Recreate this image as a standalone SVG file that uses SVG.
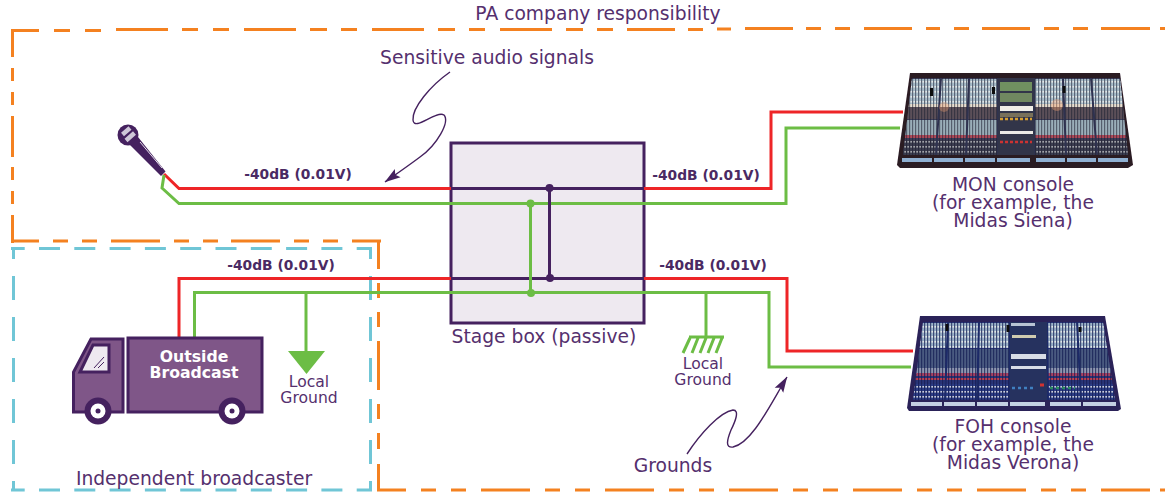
<svg xmlns="http://www.w3.org/2000/svg" width="1165" height="492" viewBox="0 0 1165 492">
<defs>
<style>
text{font-family:"DejaVu Sans",Verdana,sans-serif;fill:#55306e;font-size:18.7px;text-anchor:middle}
.s{font-size:13.8px;font-weight:700;fill:#4a2a63}
.g{font-size:15.6px}
.w{fill:#fff;font-weight:700;font-size:15.7px}
.red{fill:none;stroke:#ee2527;stroke-width:3}
.grn{fill:none;stroke:#6cbd45;stroke-width:3}
.pur{fill:none;stroke:#45215f;stroke-width:3}
.call{fill:none;stroke:#45215f;stroke-width:1.4}
.or{fill:none;stroke:#f48120;stroke-width:3}
.tl{fill:none;stroke:#70c6d6;stroke-width:3}
.th{stroke-dasharray:21 14.3;stroke-dashoffset:7.3}
.tv{stroke-dasharray:24 17;stroke-dashoffset:13}
</style>
<marker id="ah" viewBox="0 0 16 11" refX="15.500" refY="5.500" markerWidth="16" markerHeight="11" markerUnits="userSpaceOnUse" orient="auto"><path d="M0 0.500L16 5.500L0 10.500L3 5.500Z" fill="#45215f"/></marker>
<pattern id="vs" width="3" height="8" patternUnits="userSpaceOnUse"><rect width="1.200" height="8" fill="#1d1d30" fill-opacity=".55"/></pattern>
<pattern id="hs" width="3" height="5" patternUnits="userSpaceOnUse"><rect x="1.200" y="1" width="1.800" height="1.600" fill="#f3f3ef" fill-opacity=".8"/></pattern>
<pattern id="vs2" width="3" height="8" patternUnits="userSpaceOnUse"><rect width="1.200" height="8" fill="#141c50" fill-opacity=".7"/></pattern>
<clipPath id="c1"><path d="M912 78H1120L1128 155H903Z"/></clipPath>
<clipPath id="c2"><path d="M923 322H1103L1115 400H913Z"/></clipPath>
<filter id="soft" x="-5%" y="-5%" width="110%" height="110%"><feGaussianBlur stdDeviation="0.5"/></filter>
</defs>
<rect width="1165" height="492" fill="#fff"/>
<g id="zones">
<path class="or" d="M12.500 30V57M12.500 68V81M12.500 92V105M12.500 116V157M12.500 167V180M12.500 191V204M12.500 215V243"/>
<path class="or" d="M11 30.500H39M54 30.500H70M85 30.500H101M116 29.500H168M182 29.500H198M213 29.500H229M244 29.500H296M310 29.500H327M341 29.500H357M372 29.500H424M438 29.500H455M469 29.500H485M500 29.500H552M566 29.500H583M597 29.500H613M627 29.500H675M688 29.500H703M717 29H731M745 28.500H793M806 28.500H821M835 28.500H850M864 28.500H912M926 28.500H940M954 28.500H969M982 28.500H1030M1044 28.500H1059M1073 28.500H1088M1101 28.500H1150M1160 28.500H1165"/>
<path class="or" d="M12 241H39M53 241H68M82 241H97M111 241H160M174 241H189M203 241H218M231 241H280M294 241H309M323 241H338M352 241H381"/>
<path class="or" d="M378.500 241V269M378.500 283V298M378.500 312V327M378.500 341V390M378.500 404V419M378.500 433V449M378.500 464V491"/>
<path class="or" d="M377 490H406M421 490H436M451 490H466M481 490H530M545 490H560M575 490H590M605 490H654M669 490H684M699 490H714M729 490H778M793 490H808M823 490H838M853 490H902M917 490H932M947 490H962M977 490H1026M1041 490H1056M1071 490H1086M1101 490H1150M1160 490H1165"/>
<path class="tl th" d="M11 248.500H372"/>
<path class="tl th" d="M11 490H372"/>
<path class="tl tv" d="M13.500 248V490"/>
<path class="tl tv" d="M370.500 248V490"/>
</g>
<g id="stage-box"><rect x="451" y="143" width="193" height="180" fill="#eee9f0" stroke="#45215f" stroke-width="3"/></g>
<g id="connectors">
<path class="red" d="M164 174L179 188.500H451M644 188.500H771V112H903"/>
<path class="grn" d="M164 175L162 188L179 203.500H786V128H900"/>
<path class="red" d="M179 338V278.500H451M644 278.500H787V351H913"/>
<path class="grn" d="M194.500 338V292.500H769V367H911"/>
<path class="grn" d="M306 293V352"/>
<path class="grn" d="M706 293V337"/>
<path class="pur" d="M451 188.500H644M451 278.500H644M549.500 188V278"/>
<circle cx="549.500" cy="188" r="4" fill="#45215f"/><circle cx="550" cy="278" r="4" fill="#45215f"/>
<path class="grn" d="M530.500 203.500V292.500"/>
<circle cx="530.500" cy="203.500" r="4" fill="#6cbd45"/><circle cx="531" cy="293" r="4" fill="#6cbd45"/>
<path class="call" marker-end="url(#ah)" d="M450 72C430 86 412 108 413 120C414 132 436 110 444 115C450 122 437 145 420 157C408 166 395 175 385 182"/>
<path class="call" marker-end="url(#ah)" d="M687 454C700 434 720 412 733 410C740 410 735 422 731 430C727 440 725 448 733 447C752 443 770 405 787 377"/>
</g>
<g id="microphone">
<circle cx="128" cy="135" r="10.500" fill="#45215f"/>
<path d="M122.500 134.500L130 128M126 140.500L134.500 133" stroke="#cfc7d8" stroke-width="4.500" fill="none"/>
<path d="M129 144L138 137L165.500 171.500L161 176Z" fill="#45215f"/>
<path d="M140 142L162 168" stroke="#e8e2ec" stroke-width="1"/>
</g>
<g id="ground-left"><path d="M288 351H325L306.500 374Z" fill="#6cbd45"/></g>
<g id="ground-right"><path d="M689 337H724M690 338L683 353M698 338L692 353M706 338L700 353M714 338L708 353M722 338L716 353" fill="none" stroke="#6cbd45" stroke-width="3"/></g>
<g id="truck">
<path d="M73.500 412V372L91 339H123V412Z" fill="#7f5688" stroke="#45215f" stroke-width="3"/>
<path d="M80 372L93 345H109V372Z" fill="#eee9f0" stroke="#45215f" stroke-width="3"/>
<path d="M94 368L104 357M98 368L104 362" stroke="#45215f"/>
<rect x="128" y="338" width="134" height="74" fill="#7f5688" stroke="#45215f" stroke-width="3"/>
<circle cx="98" cy="411" r="13.500" fill="#45215f"/><circle cx="98" cy="411" r="7.500" fill="#fff"/><circle cx="98" cy="411" r="2.500" fill="#45215f"/>
<circle cx="232" cy="411" r="13.500" fill="#45215f"/><circle cx="232" cy="411" r="7.500" fill="#fff"/><circle cx="232" cy="411" r="2.500" fill="#45215f"/>
<text class="w" x="194" y="362">Outside<tspan x="194" dy="16">Broadcast</tspan></text>
</g>
<g id="mon-console" filter="url(#soft)">
<path d="M910 73L1120 73L1133 165L1128 168H900L897 165Z" fill="#2b1a24"/>
<g clip-path="url(#c1)">
<rect x="900" y="78" width="232" height="77" fill="#3a3d58"/>
<rect x="900" y="79" width="232" height="25" fill="#a9bfcc"/>
<rect x="900" y="104" width="232" height="3" fill="#e8dfd0"/>
<rect x="900" y="107" width="232" height="12" fill="#5b5058"/>
<rect x="900" y="120" width="232" height="15" fill="#9aaeb8"/>
<rect x="900" y="135" width="232" height="3" fill="#b04858"/>
<rect x="900" y="140" width="232" height="15" fill="#3b3e50"/>
<rect x="900" y="79" width="232" height="25" fill="url(#hs)"/>
<rect x="900" y="140" width="232" height="15" fill="url(#hs)" opacity=".7"/>
<rect x="900" y="78" width="232" height="77" fill="url(#vs)"/>
<path d="M941 78L936 155M969 78L966 155M998 78V155M1034 78V155M1063 78L1066 155M1091 78L1097 155" stroke="#2f3050" stroke-width="2"/>
<circle cx="944" cy="107" r="5" fill="#f0a070" opacity=".35"/><circle cx="1057" cy="105" r="6" fill="#f0a070" opacity=".4"/>
<rect x="998" y="78" width="36" height="77" fill="#33364a"/>
<rect x="1000" y="82" width="32" height="9" fill="#6f9060"/><rect x="1000" y="93" width="32" height="9" fill="#6f8860"/>
<rect x="1000" y="106" width="33" height="5" fill="#f0eee8"/>
<rect x="1000" y="131" width="33" height="3" fill="#eceae6"/>
<rect x="1000" y="113" width="33" height="4" fill="#78705a"/>
<path d="M1000 119h32" stroke="#d8a030" stroke-width="2.500" stroke-dasharray="3 2"/>
<path d="M1000 142h32" stroke="#cc3030" stroke-width="2.500" stroke-dasharray="3 2"/>
</g>
<path d="M931.500 88V96M993.500 87V94M1064 86V93" stroke="#111" stroke-width="3"/>
<path d="M902 160H932M934 160H963M965 160H995M997 160H1030M1036 160H1065M1067 160H1096M1098 160H1128" stroke="#8fb0d2" stroke-width="4"/>
</g>
<g id="foh-console" filter="url(#soft)">
<path d="M920 316H1105L1121 409L1118 411H909L907 408Z" fill="#2c2258"/>
<g clip-path="url(#c2)">
<rect x="910" y="322" width="210" height="78" fill="#2a3578"/>
<rect x="910" y="323" width="210" height="25" fill="#9ab2c8"/>
<rect x="910" y="349" width="210" height="19" fill="#4a5a80"/>
<rect x="910" y="368" width="210" height="6" fill="#8f98b0"/>
<rect x="910" y="373" width="210" height="3" fill="#a84060"/>
<rect x="910" y="378" width="210" height="2" fill="#c04050"/>
<rect x="910" y="384" width="210" height="15" fill="#2c3e88"/>
<rect x="910" y="323" width="210" height="25" fill="url(#hs)"/>
<rect x="910" y="385" width="210" height="14" fill="url(#hs)"/>
<rect x="910" y="322" width="210" height="78" fill="url(#vs2)"/>
<path d="M948 322L945 400M979 322L977 400M1010 322V400M1047 322L1048 400M1077 322L1081 400" stroke="#1e2a68" stroke-width="2"/>
<rect x="1010" y="322" width="37" height="78" fill="#27305f"/>
<rect x="1011" y="323" width="24" height="3" fill="#b8c4d4"/>
<rect x="1012" y="335" width="24" height="3" fill="#d0ccb0"/>
<rect x="1011" y="354" width="35" height="5" fill="#d8dde6"/>
<rect x="1011" y="366" width="35" height="3" fill="#d8dde6"/>
<path d="M1012 388h24" stroke="#3f80c0" stroke-width="2.500" stroke-dasharray="3 3"/>
<path d="M1040 385h4" stroke="#d03030" stroke-width="3"/>
<path d="M1050 388h25" stroke="#2a8a60" stroke-width="2.500" stroke-dasharray="3 3"/>
</g>
<path d="M947 324V331M1008 325V332M1080 327V332" stroke="#111" stroke-width="3"/>
<path d="M911 404H942M944 404H975M977 404H1008M1010 404H1045M1050 404H1081M1083 404H1116" stroke="#c4cfe2" stroke-width="4"/>
</g>
<g id="labels">
<text x="598" y="20">PA company responsibility</text>
<text x="487" y="64">Sensitive audio signals</text>
<text class="s" x="298" y="179">-40dB (0.01V)</text>
<text class="s" x="706" y="180">-40dB (0.01V)</text>
<text class="s" x="281" y="270">-40dB (0.01V)</text>
<text class="s" x="713" y="270">-40dB (0.01V)</text>
<text x="544" y="343">Stage box (passive)</text>
<text x="1013" y="191">MON console<tspan x="1013" dy="18">(for example, the</tspan><tspan x="1013" dy="18">Midas Siena)</tspan></text>
<text x="1013" y="433">FOH console<tspan x="1013" dy="18">(for example, the</tspan><tspan x="1013" dy="18">Midas Verona)</tspan></text>
<text x="673" y="472">Grounds</text>
<text x="194" y="485">Independent broadcaster</text>
<text class="g" x="309" y="387">Local<tspan x="309" dy="16">Ground</tspan></text>
<text class="g" x="703" y="369">Local<tspan x="703" dy="16">Ground</tspan></text>
</g>
</svg>
